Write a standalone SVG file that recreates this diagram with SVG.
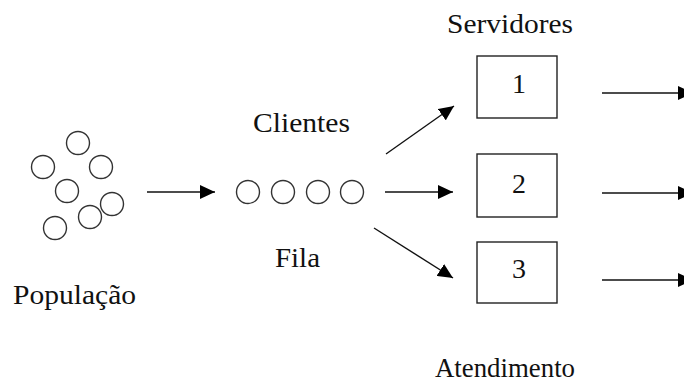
<svg xmlns="http://www.w3.org/2000/svg" width="684" height="383" viewBox="0 0 684 383">
<style>
text{font-family:'Times New Roman','Tinos','Nimbus Roman','FreeSerif','DejaVu Serif',serif;font-size:28px;fill:#111}
.c{fill:none;stroke:#333;stroke-width:1.4}
.b{fill:#fff;stroke:#222;stroke-width:1.4}
.a{stroke:#111;stroke-width:1.4;fill:none;marker-end:url(#ah)}
</style>
<defs>
<marker id="ah" viewBox="0 0 15 14" refX="15" refY="7" markerWidth="15" markerHeight="14" markerUnits="userSpaceOnUse" orient="auto">
<path d="M0,0 L15,7 L0,14 Z" fill="#000"/>
</marker>
</defs>
<rect width="684" height="383" fill="#fff"/>
<g id="populacao">
<circle class="c" cx="78" cy="143" r="11.5"/>
<circle class="c" cx="43" cy="167" r="11.5"/>
<circle class="c" cx="101" cy="167" r="11.5"/>
<circle class="c" cx="67" cy="191" r="11.5"/>
<circle class="c" cx="112" cy="204" r="11.5"/>
<circle class="c" cx="90" cy="217" r="11.5"/>
<circle class="c" cx="55" cy="228" r="11.5"/>
<text x="13" y="304" textLength="123" lengthAdjust="spacingAndGlyphs">População</text>
</g>
<g id="fila">
<text x="253" y="132" textLength="97" lengthAdjust="spacingAndGlyphs">Clientes</text>
<circle class="c" cx="248" cy="192" r="11.5"/>
<circle class="c" cx="283" cy="192" r="11.5"/>
<circle class="c" cx="318" cy="192" r="11.5"/>
<circle class="c" cx="352" cy="192" r="11.5"/>
<text x="275" y="267" textLength="45" lengthAdjust="spacingAndGlyphs">Fila</text>
</g>
<g id="servidores">
<text x="447" y="33" textLength="126" lengthAdjust="spacingAndGlyphs">Servidores</text>
</g>
<g id="servidor1">
<rect class="b" x="477" y="56" width="80" height="62"/>
<text x="519" y="93" text-anchor="middle">1</text>
</g>
<g id="servidor2">
<rect class="b" x="477" y="154" width="80" height="63"/>
<text x="519" y="193" text-anchor="middle">2</text>
</g>
<g id="servidor3">
<rect class="b" x="477" y="242" width="80" height="61"/>
<text x="519" y="278" text-anchor="middle">3</text>
</g>
<g id="atendimento">
<text x="435" y="377" textLength="140" lengthAdjust="spacingAndGlyphs">Atendimento</text>
</g>
<g id="connectors">
<line class="a" x1="147" y1="192" x2="215" y2="192"/>
<line class="a" x1="386" y1="154" x2="454" y2="106"/>
<line class="a" x1="385" y1="192" x2="453" y2="192"/>
<line class="a" x1="374" y1="228" x2="453" y2="278"/>
<line class="a" x1="602" y1="93" x2="693" y2="93"/>
<line class="a" x1="602" y1="193" x2="693" y2="193"/>
<line class="a" x1="602" y1="280" x2="693" y2="280"/>
</g>
</svg>
